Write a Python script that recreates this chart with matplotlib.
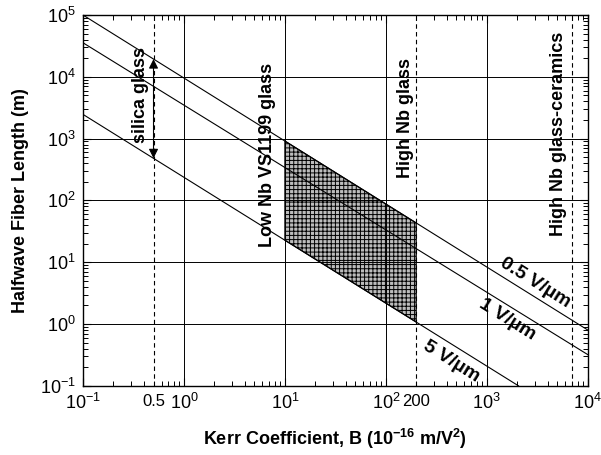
import numpy as np
import matplotlib
matplotlib.use('Agg')
import matplotlib.pyplot as plt
from matplotlib.transforms import blended_transform_factory

plt.rcParams['font.family'] = ['Liberation Sans', 'DejaVu Sans']
plt.rcParams['mathtext.fontset'] = 'custom'
plt.rcParams['mathtext.rm'] = 'Liberation Sans'
plt.rcParams['mathtext.bf'] = 'Liberation Sans:bold'
plt.rcParams['hatch.linewidth'] = 0.7

# field lines: halfwave length vs Kerr coefficient (end points)
B_05 = [0.1, 1e4]
L_05 = [1e5, 0.8]
B_1 = [0.1, 1e4]
L_1 = [3.56e4, 0.32]
B_5 = [0.1, 2060]
L_5 = [2470, 0.1]

# material Kerr coefficients (10^-16 m/V^2)
B_silica = 0.5
B_lowNb = 10
B_highNb = 200
B_ceramic = 7000


def on_line(b, bs, ls):
    # value on a straight line in log-log space
    return 10 ** np.interp(np.log10(b), np.log10(bs), np.log10(ls))


fig = plt.figure(figsize=(6.01, 4.55), dpi=100)
ax = fig.add_axes([0.138, 0.152, 0.840, 0.815])
ax.set_xscale('log')
ax.set_yscale('log')
ax.set_xlim(0.1, 1e4)
ax.set_ylim(0.1, 1e5)

ax.grid(True, which='major', color='k', lw=0.7)
ax.set_axisbelow(False)

for bs, ls in [(B_05, L_05), (B_1, L_1), (B_5, L_5)]:
    ax.plot(bs, ls, 'k-', lw=0.8)

# shaded band for the low-Nb to high-Nb glass range
bb = np.array([B_lowNb, B_highNb])
top = on_line(bb, B_05, L_05)
bot = on_line(bb, B_5, L_5)
ax.fill([bb[0], bb[1], bb[1], bb[0]], [top[0], top[1], bot[1], bot[0]],
        facecolor='#bdbdbd', edgecolor='k', hatch='++++', lw=0.8, zorder=1.5)

for b in [B_silica, B_highNb, B_ceramic]:
    ax.axvline(b, color='k', lw=0.8, ls=(0, (4, 3)))

# double arrow spanning the silica field range
for a, b in [(B_05, L_05), (B_5, L_5)]:
    ax.annotate('', xy=(B_silica, on_line(B_silica, a, b)), xytext=(B_silica, 2e3),
                arrowprops=dict(arrowstyle='-|>', color='k', lw=0.8,
                                mutation_scale=14, shrinkA=0, shrinkB=0))

ax.tick_params(which='both', direction='in', top=True, right=True, labelsize=13)
ax.tick_params(which='major', length=6, width=0.8, pad=5)
ax.tick_params(which='minor', length=3.5, width=0.7)
for s in ax.spines.values():
    s.set_linewidth(1.0)

trans = blended_transform_factory(ax.transData, ax.transAxes)
ax.text(B_silica, -0.042, '0.5', transform=trans, ha='center', va='center', fontsize=12)
ax.text(B_highNb, -0.042, '200', transform=trans, ha='center', va='center', fontsize=12)

tk = dict(rotation=90, ha='center', va='center', fontsize=13, fontweight='bold')
ax.text(0.37, 5.0e3, 'silica glass', **tk)
ax.text(6.8, 535, 'Low Nb VS1199 glass', **tk)
ax.text(158, 2130, 'High Nb glass', **tk)
ax.text(5160, 1215, 'High Nb glass-ceramics', **tk)

lk = dict(rotation=-32, ha='center', va='center', fontsize=14, fontweight='bold')
ax.text(2990, 4.7, '0.5 V/µm', **lk)
ax.text(1580, 1.2, '1 V/µm', **lk)
ax.text(450, 0.25, '5 V/µm', **lk)

ax.set_xlabel(r'Kerr Coefficient, B (10$^{\mathbf{-16}}$ m/V$^{\mathbf{2}}$)',
              fontsize=13, fontweight='bold', labelpad=10)
ax.set_ylabel('Halfwave Fiber Length (m)', fontsize=13, fontweight='bold', labelpad=8)

fig.savefig('out.png', dpi=100)
